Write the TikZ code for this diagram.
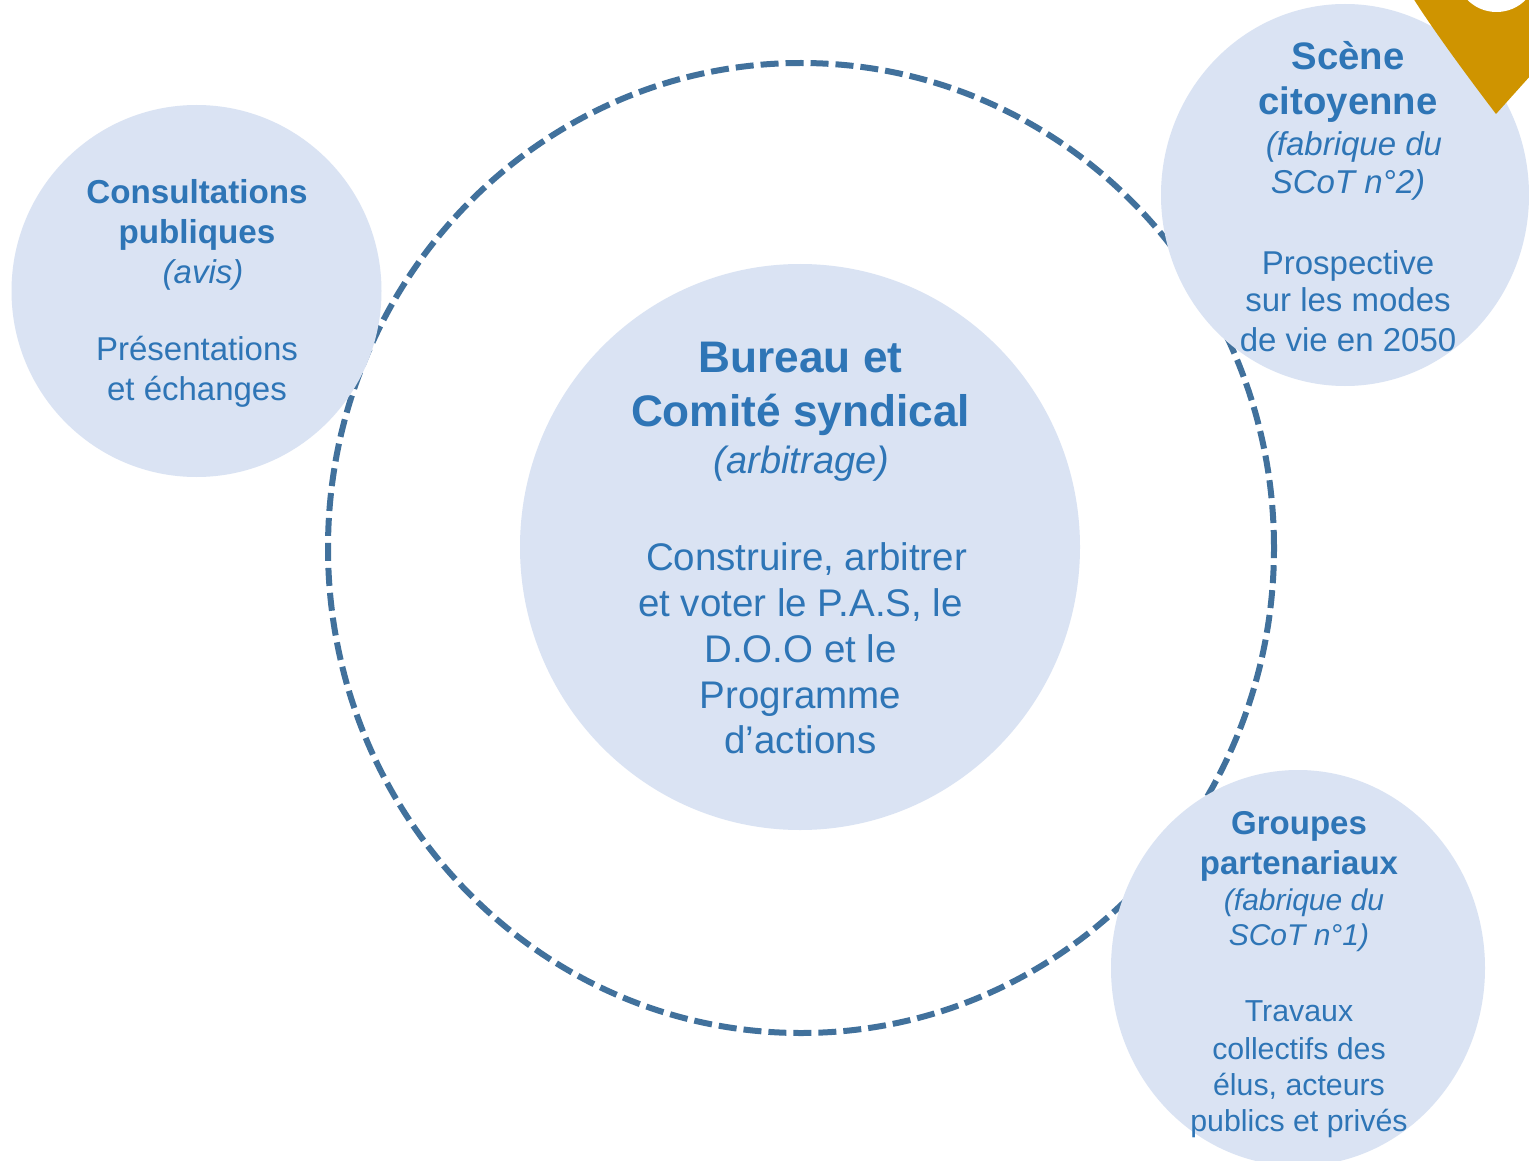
\documentclass[tikz,border=0pt]{standalone}
\usepackage{fontspec}
\setmainfont{Liberation Sans}
\usetikzlibrary{shapes.geometric}
\definecolor{bleu}{HTML}{2E75B6}
\definecolor{pale}{HTML}{DAE3F3}
\definecolor{anneau}{HTML}{41719C}
\definecolor{or}{HTML}{CF9400}
\newcommand{\lb}[1]{\fontsize{#1}{0}\selectfont\bfseries}
\newcommand{\li}[1]{\fontsize{#1}{0}\selectfont\itshape}
\newcommand{\lr}[1]{\fontsize{#1}{0}\selectfont}
\tikzset{
  disque/.style={ellipse,fill=pale,inner sep=0pt,draw=none},
  texte/.style={text=bleu,align=center,inner sep=0pt,anchor=base,
    font={\fontsize{30}{0}\selectfont\lineskiplimit-1000pt\relax}},
  ring/.style={ellipse,draw=anneau,line width=6pt,inner sep=0pt,dash pattern=on 18pt off 7pt}
}
\begin{document}
\begin{tikzpicture}[x=1pt,y=-1pt]
\useasboundingbox (0,0) rectangle (1529,1161);
\clip (0,0) rectangle (1529,1161);
\fill[white] (0,0) rectangle (1529,1161);
\node[ring,minimum width=946pt,minimum height=970pt] (anneau) at (801,548) {};
\node[disque,minimum width=560pt,minimum height=566pt] (bureau) at (800,547) {};
\node[disque,minimum width=370pt,minimum height=372pt] (consult) at (196.5,291) {};
\node[disque,minimum width=368pt,minimum height=382pt] (scene) at (1345,195) {};
\node[disque,minimum width=374pt,minimum height=396pt] (groupes) at (1298,968) {};
\fill[or] (1413,-2) .. controls (1432,28) and (1464,72) .. (1496,114) -- (1531,75) -- (1531,-2) -- cycle;
\fill[white] (1496.5,-29) circle (41);
\node[texte] (tbureau) at (800.5,753.5) {\lb{44.2}Bureau et\\[54pt]\lb{44.2}Comité syndical\\[47pt]\li{38}\hspace*{2pt}(arbitrage)\\[97pt]\lr{38.5}\hspace*{12pt}Construire, arbitrer\\[46pt]\lr{38.5}et voter le P.A.S, le\\[46pt]\lr{38.5}D.O.O et le\\[46pt]\lr{38.5}Programme\\[45pt]\lr{38.5}d’actions};
\node[texte] (tconsult) at (197,400.5) {\lb{33.2}Consultations\\[40pt]\lb{33.2}publiques\\[40pt]\li{33}\hspace*{12pt}(avis)\\[77pt]\lr{33}Présentations\\[40pt]\lr{33}et échanges};
\node[texte] (tscene) at (1348,351) {\lb{38.3}Scène\\[45pt]\lb{38.3}citoyenne\\[41pt]\li{33}\hspace*{12pt}(fabrique du\\[38pt]\li{33}SCoT n°2)\\[81pt]\lr{33}Prospective\\[37pt]\lr{33}sur les modes\\[40pt]\lr{33}de vie en 2050};
\node[texte] (tgroupes) at (1299,1131) {\lb{33}Groupes\\[40pt]\lb{33}partenariaux\\[36pt]\li{30}\hspace*{10pt}(fabrique du\\[35pt]\li{30}SCoT n°1)\\[76pt]\lr{30.3}Travaux\\[38pt]\lr{30.3}collectifs des\\[36pt]\lr{30.3}élus, acteurs\\[36pt]\lr{30.3}publics et privés};
\end{tikzpicture}
\end{document}
